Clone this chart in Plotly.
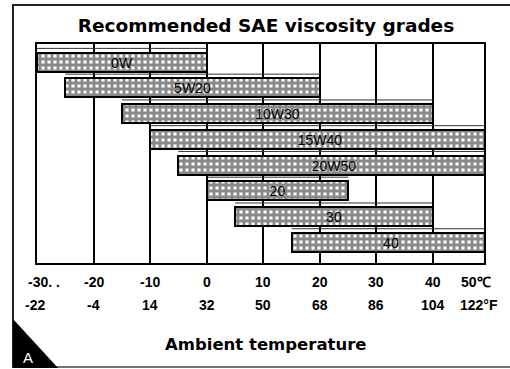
import plotly.graph_objects as go

# SAE grades and their usable ambient temperature ranges (°C)
grades = ["0W", "5W20", "10W30", "15W40", "20W50", "20", "30", "40"]
t_low = [-30, -25, -15, -10, -5, 0, 5, 15]
t_high = [0, 20, 40, 50, 50, 25, 40, 50]

# Temperature scale labels
celsius_ticks = [-30, -20, -10, 0, 10, 20, 30, 40, 50]
celsius_labels = ["-30. .", "-20", "-10", "0", "10", "20", "30", "40", "50\u2103"]
fahrenheit_labels = ["-22", "-4", "14", "32", "50", "68", "86", "104", "122°F"]

W, H = 510, 369
ML, MR, MT, MB = 37, 26, 44, 106
PW, PH = W - ML - MR, H - MT - MB
X_MAX = 49.0

FONT = "Liberation Sans, Arial, sans-serif"
FONT_WIDE = "DejaVu Sans, Liberation Sans, sans-serif"


def px(x):
    return (x - ML) / PW


def py(y):
    return (H - MB - y) / PH


rows = list(range(len(grades)))
fig = go.Figure()
fig.add_trace(go.Bar(
    y=rows,
    x=[h - l for l, h in zip(t_low, t_high)],
    base=t_low,
    orientation="h",
    width=0.74,
    text=grades,
    textposition="inside",
    insidetextanchor="middle",
    textangle=0,
    constraintext="none",
    textfont=dict(family=FONT, size=14, color="black"),
    marker=dict(
        color="white",
        line=dict(color="black", width=2),
        pattern=dict(shape="+", fgcolor="#111", bgcolor="white",
                     size=6, solidity=0.72, fillmode="overlay"),
    ),
    hoverinfo="skip",
))

shapes = []
# thin rule above each bar, spanning the grade's range
for i, (l, h) in enumerate(zip(t_low, t_high)):
    shapes.append(dict(type="line", xref="x", yref="y", x0=l, x1=min(h, X_MAX),
                       y0=i - 0.53, y1=i - 0.53,
                       line=dict(color="#333", width=1)))

# page frame
shapes += [
    dict(type="line", xref="paper", yref="paper", x0=px(12), x1=px(512), y0=py(5), y1=py(5),
         line=dict(color="#222", width=2)),
    dict(type="line", xref="paper", yref="paper", x0=px(13), x1=px(13), y0=py(4), y1=py(368),
         line=dict(color="#222", width=2)),
    dict(type="line", xref="paper", yref="paper", x0=px(12), x1=px(512), y0=py(367), y1=py(367),
         line=dict(color="#444", width=1.5)),
    dict(type="path", xref="paper", yref="paper",
         path=f"M {px(13)},{py(319)} L {px(13)},{py(368)} L {px(58)},{py(368)} Z",
         fillcolor="black", line=dict(width=0)),
]

annotations = []
for t, c, f in zip(celsius_ticks, celsius_labels, fahrenheit_labels):
    tick_font = dict(family=FONT, size=14, color="black", weight="bold")
    if t > X_MAX:
        # the last scale step sits on the right edge of the frame
        common = dict(x=1, xref="x domain", xanchor="right")
        annotations.append(dict(text=c, y=0, yref="paper", showarrow=False, xshift=9,
                                yanchor="middle", yshift=-19, font=tick_font, **common))
        annotations.append(dict(text=f, y=0, yref="paper", showarrow=False, xshift=16,
                                yanchor="middle", yshift=-42, font=tick_font, **common))
        continue
    xa, xs = "center", 0
    if t == -30:
        xa, xs = "left", -11
    annotations.append(dict(x=t, y=0, xref="x", yref="paper", text=c, showarrow=False,
                            xanchor=xa, xshift=xs, yanchor="middle", yshift=-19,
                            font=tick_font))
    annotations.append(dict(x=t, y=0, xref="x", yref="paper", text=f, showarrow=False,
                            xanchor="center", xshift=-2 if t == -30 else 0,
                            yanchor="middle", yshift=-42, font=tick_font))

annotations.append(dict(x=px(266), y=py(345), xref="paper", yref="paper",
                        text="Ambient temperature", showarrow=False,
                        xanchor="center", yanchor="middle",
                        font=dict(family=FONT_WIDE, size=16.5, color="black", weight="bold")))
annotations.append(dict(x=px(28), y=py(357), xref="paper", yref="paper",
                        text="A", showarrow=False, xanchor="center", yanchor="middle",
                        font=dict(family=FONT, size=15, color="white")))

fig.update_layout(
    width=W, height=H,
    margin=dict(l=ML, r=MR, t=MT, b=MB),
    paper_bgcolor="white", plot_bgcolor="white",
    showlegend=False,
    title=dict(text="Recommended SAE viscosity grades", x=266 / W, xanchor="center",
               y=1 - 26 / H, yanchor="middle",
               font=dict(family=FONT_WIDE, size=18.5, color="black", weight="bold")),
    xaxis=dict(range=[-30, X_MAX], tickvals=celsius_ticks, showticklabels=False,
               ticks="", showgrid=True, gridcolor="black", gridwidth=1.5,
               zeroline=False, showline=True, linecolor="black", linewidth=2, mirror=True),
    yaxis=dict(range=[7.8, -0.7], showticklabels=False, ticks="", showgrid=False,
               zeroline=False, showline=True, linecolor="black", linewidth=2, mirror=True),
    shapes=shapes,
    annotations=annotations,
    bargap=0,
)

fig.write_html("out.html")
